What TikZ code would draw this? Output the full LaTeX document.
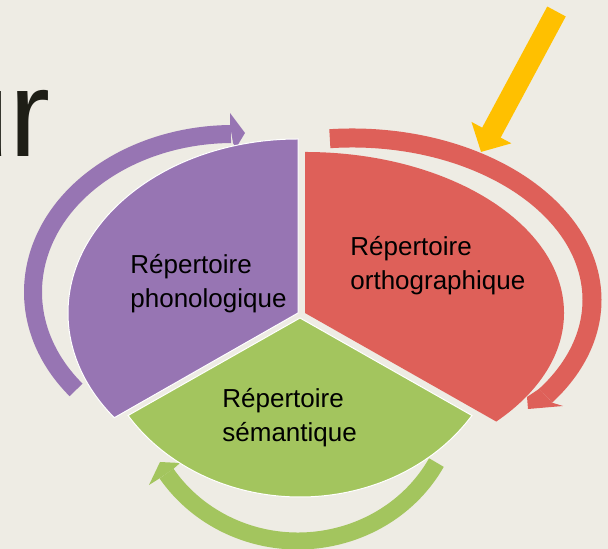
\documentclass[tikz,border=0pt]{standalone}
\usepackage{fontspec}
\setmainfont{Liberation Sans}
\usepackage{tikz}
\usetikzlibrary{arrows.meta,positioning}
\definecolor{fond}{HTML}{EEECE4}
\definecolor{violet}{HTML}{9775B3}
\definecolor{rouge}{HTML}{DE6059}
\definecolor{vert}{HTML}{A3C55E}
\definecolor{jaune}{HTML}{FFC000}
\definecolor{encre}{HTML}{1E1E16}

\begin{document}
\begin{tikzpicture}[x=0.5pt,y=0.5pt,
  every node/.style={inner sep=0pt,font=\fontsize{13}{17}\selectfont},
  rep/.style={anchor=base west,align=left},
  band/.style={line width=9pt}]
  \useasboundingbox (0,0) rectangle (608,549);
  \clip (0,0) rectangle (608,549);
  \fill[fond] (0,0) rectangle (608,549);
  \node[anchor=base west,text=encre,font=\fontsize{61.5}{70}\selectfont] (ur) at (-59,392) {ur};

  \draw[band,violet] (233,257) ++(218.3:200 and 158) arc[start angle=218.3,end angle=90.6,x radius=200,y radius=158];
  \fill[violet] (230,424) -- (230,436) -- (245,416) -- (236,401) -- (233,406) -- cycle;
  \draw[band,rouge,line width=9.5pt] (352,249) ++(95.3:240 and 162) arc[start angle=95.3,end angle=-36.2,x radius=240,y radius=162];
  \fill[rouge] (539.3,160.3) -- (527,152) -- (528,140) -- (563,143) -- (552.1,146.3) -- cycle;
  \draw[band,vert,line width=8.5pt] (298,158) ++(331.5:157.5 and 150) arc[start angle=331.5,end angle=213.4,x radius=157.5,y radius=150];
  \fill[vert] (173.5,80.2) -- (180,86) -- (160,87) -- (149,64) -- (159.5,70.6) -- cycle;

  \filldraw[fill=violet,draw=white,line width=0.5pt] (298,236) -- ++(90:230 and 174) arc[start angle=90,end angle=217,x radius=230,y radius=174] -- cycle;
  \fill[rouge] (305,236) -- ++(90:259 and 161) arc[start angle=90,end angle=-42.4,x radius=259,y radius=161] -- cycle;
  \filldraw[fill=vert,draw=white,line width=0.5pt] (300,231) -- ++(213:205 and 179) arc[start angle=213,end angle=327,x radius=205,y radius=179] -- cycle;

  \node[rep] (pho) at (130,241) {Répertoire\\phonologique};
  \node[rep] (ortho) at (350,259) {Répertoire\\orthographique};
  \node[rep] (sem) at (222,107) {Répertoire\\sémantique};

  \coordinate (ytail) at (556.5,537.5);
  \coordinate (ytip) at (481,397);
  \draw[jaune,line width=10.5pt,-{Triangle[length=11pt,width=22pt]}] (ytail) -- (ytip);
\end{tikzpicture}
\end{document}
